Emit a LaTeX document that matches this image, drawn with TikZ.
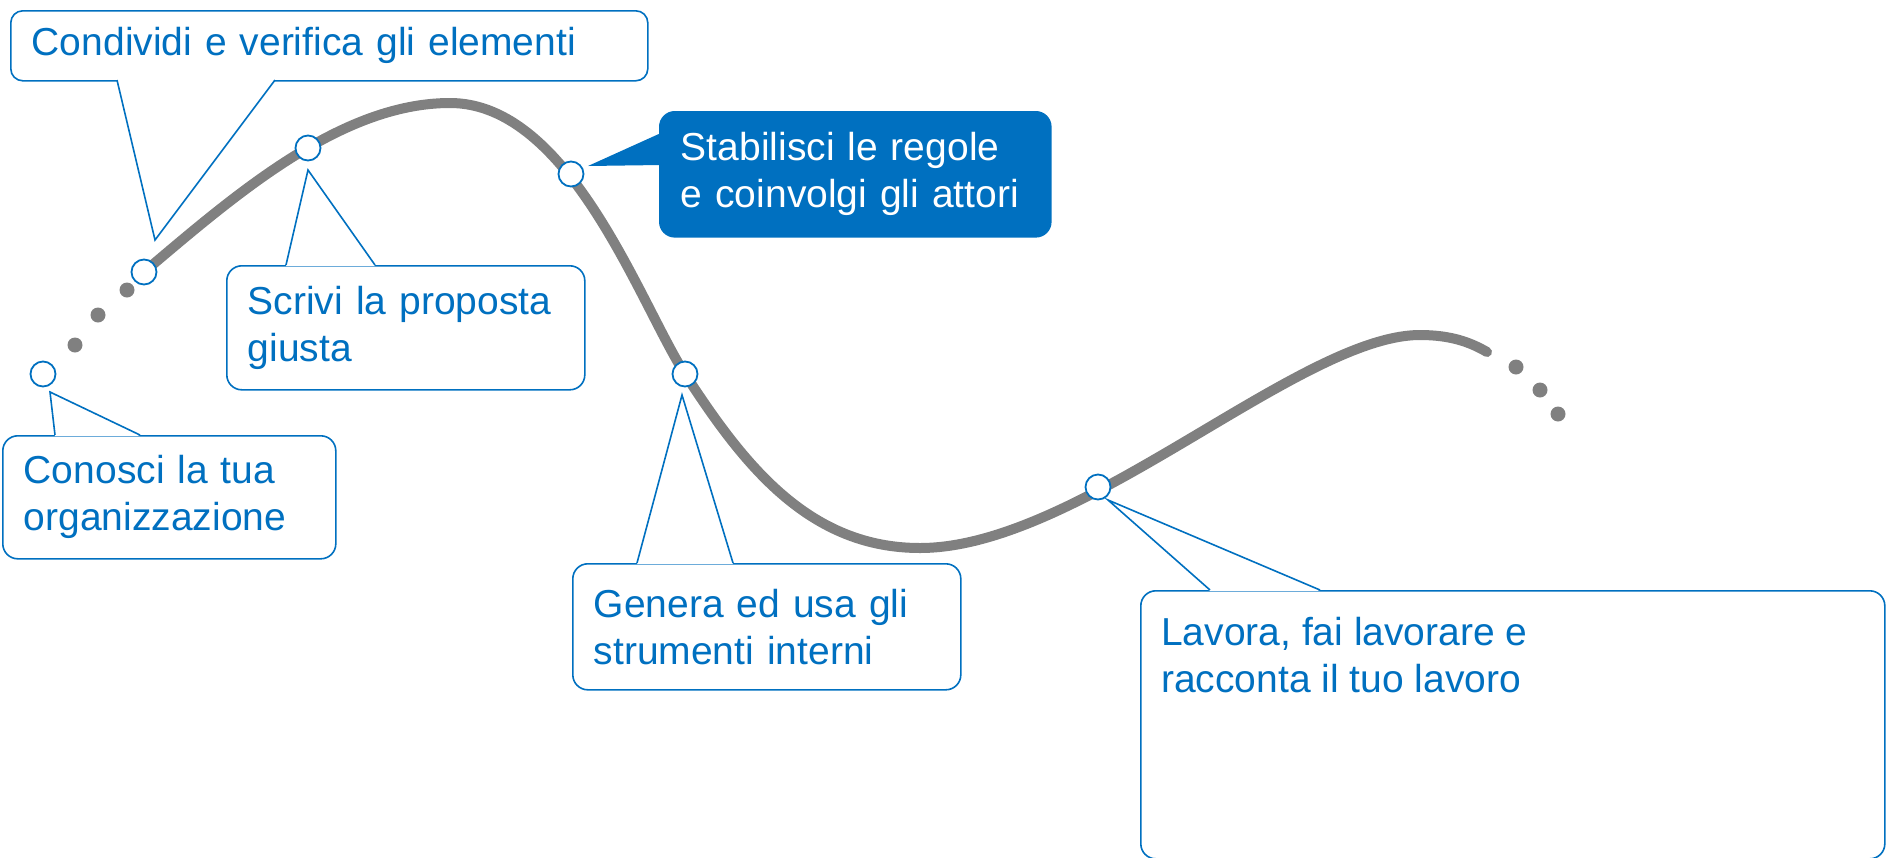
\documentclass[tikz,border=0pt]{standalone}
\usepackage{fontspec}
\setmainfont{Liberation Sans}
\usetikzlibrary{calc}
\definecolor{cblue}{HTML}{0070C0}
\definecolor{cgray}{HTML}{808080}
\begin{document}
\begin{tikzpicture}[x=1pt,y=-1pt,
  box/.style={draw=cblue, line width=1.6pt, fill=white, rounded corners=15pt,
    anchor=north west, align=left, text=cblue,
    font=\fontsize{39}{47}\selectfont, inner xsep=21pt, inner ysep=0pt},
  fbox/.style={box, fill=cblue, text=white},
  txt/.style={anchor=north west, align=left, text=cblue, inner sep=0pt,
    font=\fontsize{39}{47}\selectfont},
  ptr/.style={draw=cblue, line width=1.6pt},
  ring/.style={circle, draw=cblue, line width=1.8pt, fill=white, minimum size=25pt, inner sep=0pt},
  curve/.style={draw=cgray, line width=10pt, line cap=round},
  gdot/.style={fill=cgray}
]
\useasboundingbox (0,0) rectangle (1886,857);

% curve and dots
\fill[gdot] (75,345) circle[radius=7.5pt];
\fill[gdot] (98,315) circle[radius=7.5pt];
\fill[gdot] (127,290) circle[radius=7.5pt];
\fill[gdot] (1516,367) circle[radius=7.5pt];
\fill[gdot] (1540,390) circle[radius=7.5pt];
\fill[gdot] (1558,414) circle[radius=7.5pt];
\draw[curve] (144,272) .. controls (234,196) and (340,103) .. (450,103)
  .. controls (570,103) and (640,304) .. (685,374)
  .. controls (745,467) and (810,548) .. (920,548)
  .. controls (1080,548) and (1300,335) .. (1420,335)
  .. controls (1450,335) and (1470,342) .. (1487,352);

% markers
\node[ring] (m1) at (43,374) {};
\node[ring] (m2) at (144,272) {};
\node[ring] (m3) at (308,148) {};
\node[ring] (m4) at (571,174) {};
\node[ring] (m5) at (685,374) {};
\node[ring] (m6) at (1098,487) {};

% callout 1
\node[box, rounded corners=12pt, minimum width=637pt, minimum height=70pt, text width=595pt] (b1) at (10,10) {Condividi e verifica gli elementi};
\coordinate (a1) at (117,80); \coordinate (z1) at (275,80); \coordinate (t1) at (155,240);
\fill[white] ($(a1)+(0,-1.2)$) -- (t1) -- ($(z1)+(0,-1.2)$) -- cycle;
\draw[ptr] (a1) -- (t1) -- (z1);

% callout 2
\node[box, minimum width=358pt, minimum height=124pt, text width=316pt] (b2) at (226,265) {Scrivi la proposta\\giusta};
\coordinate (a2) at (286,265); \coordinate (z2) at (375,265); \coordinate (t2) at (308,170);
\fill[white] ($(a2)+(0,1.2)$) -- (t2) -- ($(z2)+(0,1.2)$) -- cycle;
\draw[ptr] (a2) -- (t2) -- (z2);

% callout 3 (filled)
\node[fbox, minimum width=391pt, minimum height=125pt, text width=349pt] (b3) at (659,111) {Stabilisci le regole\\e coinvolgi gli attori};
\coordinate (a3) at (659,133); \coordinate (z3) at (659,165); \coordinate (t3) at (588,166);
\fill[cblue] ($(a3)+(2,0)$) -- (t3) -- ($(z3)+(2,0)$) -- cycle;

% callout 4
\node[box, minimum width=333pt, minimum height=123pt, text width=291pt] (b4) at (2,435) {Conosci la tua\\organizzazione};
\coordinate (a4) at (55,435); \coordinate (z4) at (140,435); \coordinate (t4) at (50,392);
\fill[white] ($(a4)+(0,1.2)$) -- (t4) -- ($(z4)+(0,1.2)$) -- cycle;
\draw[ptr] (a4) -- (t4) -- (z4);

% callout 5
\node[box, minimum width=388pt, minimum height=126pt, text width=346pt] (b5) at (572,563) {Genera ed usa gli\\strumenti interni};
\coordinate (a5) at (637,563); \coordinate (z5) at (733,563); \coordinate (t5) at (682,395);
\fill[white] ($(a5)+(0,1.2)$) -- (t5) -- ($(z5)+(0,1.2)$) -- cycle;
\draw[ptr] (a5) -- (t5) -- (z5);

% callout 6
\node[box, minimum width=744pt, minimum height=268pt] (b6) at (1140,590) {};
\node[txt] (x6) at (1161,617) {Lavora, fai lavorare e\\racconta il tuo lavoro};
\coordinate (a6) at (1210,590); \coordinate (z6) at (1320,590); \coordinate (t6) at (1108,500);
\fill[white] ($(a6)+(0,1.2)$) -- (t6) -- ($(z6)+(0,1.2)$) -- cycle;
\draw[ptr] (a6) -- (t6) -- (z6);
\end{tikzpicture}
\end{document}
